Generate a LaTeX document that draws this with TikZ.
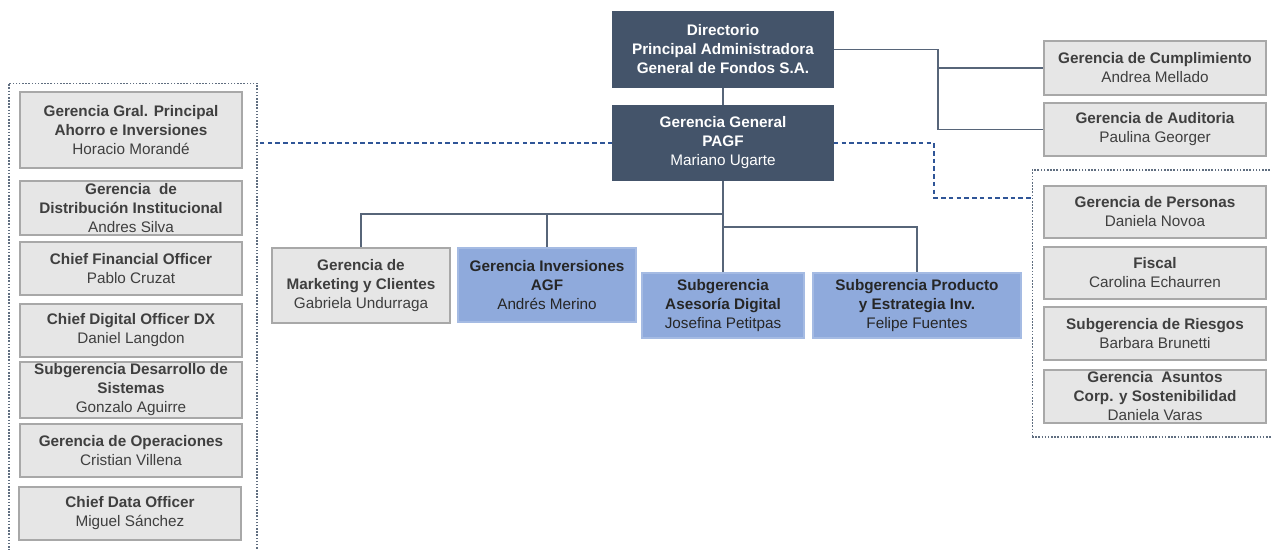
\documentclass[tikz,border=0pt]{standalone}
\usepackage{fontspec}
\setmainfont{Liberation Sans}
\usetikzlibrary{positioning}
\definecolor{pizarra}{HTML}{44546A}
\definecolor{azulclaro}{HTML}{8FAADC}
\definecolor{grisfondo}{HTML}{E6E6E6}
\definecolor{grisborde}{HTML}{A8A8A8}
\definecolor{textogris}{HTML}{3F3F3F}
\definecolor{azulraya}{HTML}{2F5597}
\tikzset{
  caja/.style={draw=grisborde, line width=0.9pt, fill=grisfondo, text=textogris,
    align=center, inner sep=1pt, font=\fontsize{8.7}{10.8}\selectfont},
  oscura/.style={caja, draw=pizarra, fill=pizarra, text=white},
  azul/.style={caja, draw=azulclaro!80!white, fill=azulclaro, text=black!85},
  marco/.style={draw=pizarra!85, line width=0.6pt, dash pattern=on 0.9pt off 0.9pt},
  linea/.style={draw=pizarra!90, line width=1pt},
  raya/.style={draw=azulraya, line width=0.9pt, dash pattern=on 2.6pt off 1.8pt}
}
\begin{document}
\begin{tikzpicture}[x=0.02cm, y=-0.02cm]
\useasboundingbox (0,0) rectangle (1271,550);

% marcos punteados
\node[marco, minimum width=4.96cm, minimum height=9.54cm] (izq) at (133,321.5) {};
\node[marco, minimum width=4.96cm, minimum height=5.34cm] (der) at (1156,303.5) {};

% directorio y gerencia general
\node[oscura, minimum width=4.4cm, minimum height=1.5cm] (dir) at (723,49.5) {\textbf{Directorio}\\\textbf{Principal Administradora}\\\textbf{General de Fondos S.A.}};
\node[oscura, minimum width=4.4cm, minimum height=1.48cm] (gg) at (723,143) {\textbf{Gerencia General}\\\textbf{PAGF}\\Mariano Ugarte};

% cumplimiento y auditoria
\node[caja, minimum width=4.44cm, minimum height=1.08cm] (cum) at (1155,68) {\textbf{Gerencia de Cumplimiento}\\Andrea Mellado};
\node[caja, minimum width=4.44cm, minimum height=1.06cm] (aud) at (1155,129.5) {\textbf{Gerencia de Auditoria}\\Paulina Georger};

% columna izquierda
\node[caja, minimum width=4.44cm, minimum height=1.52cm] (gpa) at (131,130) {\textbf{Gerencia Gral. Principal}\\\textbf{Ahorro e Inversiones}\\Horacio Morandé};
\node[caja, minimum width=4.44cm, minimum height=1.08cm] (dis) at (131,208) {\textbf{Gerencia\ \ de}\\\textbf{Distribución Institucional}\\Andres Silva};
\node[caja, minimum width=4.44cm, minimum height=1.06cm] (cfo) at (131,268.5) {\textbf{Chief Financial Officer}\\Pablo Cruzat};
\node[caja, minimum width=4.44cm, minimum height=1.06cm] (cdo) at (131,330.5) {\textbf{Chief Digital Officer DX}\\Daniel Langdon};
\node[caja, minimum width=4.44cm, minimum height=1.08cm] (sis) at (131,390) {\textbf{Subgerencia Desarrollo de}\\\textbf{Sistemas}\\Gonzalo Aguirre};
\node[caja, minimum width=4.44cm, minimum height=1.06cm] (ope) at (131,450.5) {\textbf{Gerencia de Operaciones}\\Cristian Villena};
\node[caja, minimum width=4.44cm, minimum height=1.06cm] (dat) at (130,513.5) {\textbf{Chief Data Officer}\\Miguel Sánchez};

% fila central
\node[caja, minimum width=3.56cm, minimum height=1.5cm] (mkt) at (361,285.5) {\textbf{Gerencia de}\\\textbf{Marketing y Clientes}\\Gabriela Undurraga};
\node[azul, minimum width=3.56cm, minimum height=1.48cm] (inv) at (547,285) {\textbf{Gerencia Inversiones}\\\textbf{AGF}\\Andrés Merino};
\node[azul, minimum width=3.24cm, minimum height=1.3cm] (ase) at (723,305.5) {\textbf{Subgerencia}\\\textbf{Asesoría Digital}\\Josefina Petitpas};
\node[azul, minimum width=4.16cm, minimum height=1.3cm] (pro) at (917,305.5) {\textbf{Subgerencia Producto}\\\textbf{y Estrategia Inv.}\\Felipe Fuentes};

% columna derecha
\node[caja, minimum width=4.44cm, minimum height=1.04cm] (per) at (1155,212) {\textbf{Gerencia de Personas}\\Daniela Novoa};
\node[caja, minimum width=4.44cm, minimum height=1.04cm] (fis) at (1155,273) {\textbf{Fiscal}\\Carolina Echaurren};
\node[caja, minimum width=4.44cm, minimum height=1.06cm] (rie) at (1155,333.5) {\textbf{Subgerencia de Riesgos}\\Barbara Brunetti};
\node[caja, minimum width=4.44cm, minimum height=1.06cm] (asu) at (1155,396.5) {\textbf{Gerencia\ \ Asuntos}\\\textbf{Corp. y Sostenibilidad}\\Daniela Varas};

% puntos de quiebre
\coordinate (jr) at (938,49.5);
\coordinate (jd) at (934,198);
\coordinate (b1) at (723,214);
\coordinate (b2) at (723,227);

% conectores
\path[linea] (dir) -- (gg);
\path[linea] (dir.east) -- (jr) |- (aud.west);
\path[linea] (jr |- cum.west) -- (cum.west);
\path[linea] (gg.south) -- (ase.north);
\path[linea] (b1) -| (mkt.north);
\path[linea] (inv.north |- b1) -- (inv.north);
\path[linea] (b2) -| (pro.north);

\path[raya] (gg.west) -- (gg.west -| izq.east);
\path[raya] (gg.east) -| (jd) -- (jd -| der.west);
\end{tikzpicture}
\end{document}
